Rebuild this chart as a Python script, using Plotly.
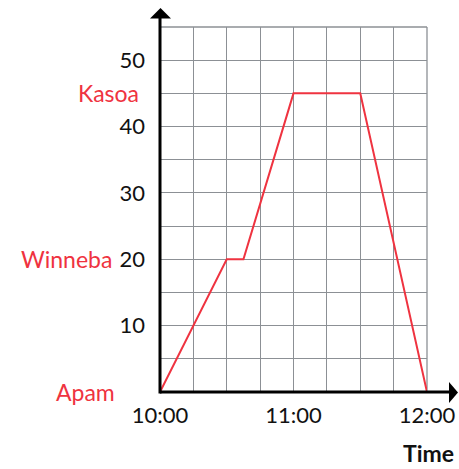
import plotly.graph_objects as go

# Journey: time of day vs distance from Apam
times = ["10:00", "10:30", "10:37:30", "11:00", "11:30", "12:00"]
distances = [0, 20, 20, 45, 45, 0]

# Named places along the route (distance value)
places = ["Apam", "Winneba", "Kasoa"]
place_dist = [0, 20, 45]
place_shift = [-43, -46, -19]

y_tick_vals = [10, 20, 30, 40, 50]
x_tick_labels = ["10:00", "11:00", "12:00"]

DAY = "2024-01-01 "
RED = "#ef3340"
GRID = "#8c9095"
FONT = "Lato, 'Open Sans', sans-serif"

W, H = 459, 469
L, R, T, B = 160, 32, 27, 77
PW, PH = W - L - R, H - T - B


def px(x):
    return (x - L) / PW


def py(y):
    return (H - B - y) / PH


fig = go.Figure()
fig.add_trace(go.Scatter(
    x=[DAY + t for t in times],
    y=distances,
    mode="lines",
    line=dict(color=RED, width=2),
    hoverinfo="skip",
    cliponaxis=False,
))

shapes = [
    # outer grid border (top and right)
    dict(type="line", xref="paper", yref="paper", x0=0, x1=1, y0=1, y1=1,
         line=dict(color=GRID, width=1.3), layer="below"),
    dict(type="line", xref="paper", yref="paper", x0=1, x1=1, y0=0, y1=1,
         line=dict(color=GRID, width=1.3), layer="below"),
    # axis lines
    dict(type="line", xref="paper", yref="paper", x0=px(160), x1=px(450),
         y0=0, y1=0, line=dict(color="black", width=3)),
    dict(type="line", xref="paper", yref="paper", x0=0, x1=0,
         y0=py(393.5), y1=py(17), line=dict(color="black", width=3)),
    # arrow heads
    dict(type="path", xref="paper", yref="paper",
         path=f"M {px(150)},{py(18.5)} L {px(171)},{py(18.5)} L {px(160.5)},{py(8)} Z",
         fillcolor="black", line=dict(width=0)),
    dict(type="path", xref="paper", yref="paper",
         path=f"M {px(449)},{py(382)} L {px(449)},{py(403)} L {px(458)},{py(392.5)} Z",
         fillcolor="black", line=dict(width=0)),
]

annotations = []
for name, d, s in zip(places, place_dist, place_shift):
    annotations.append(dict(
        x=0, xref="paper", y=d, yref="y", text=name, showarrow=False,
        xanchor="right", yanchor="middle", xshift=s,
        font=dict(family=FONT, size=23, color=RED),
    ))
annotations.append(dict(
    x=px(456), xref="paper", y=py(453), yref="paper", text="<b>Time</b>",
    showarrow=False, xanchor="right", yanchor="middle",
    font=dict(family=FONT, size=23, color="#111111"),
))

fig.update_layout(
    width=W, height=H,
    margin=dict(l=L, r=R, t=T, b=B, autoexpand=False),
    paper_bgcolor="white", plot_bgcolor="white",
    showlegend=False,
    shapes=shapes,
    annotations=annotations,
    xaxis=dict(
        type="date",
        range=[DAY + "10:00", DAY + "12:00"],
        tickvals=[DAY + t for t in x_tick_labels],
        ticktext=x_tick_labels,
        showgrid=True, gridcolor=GRID, gridwidth=1.3,
        minor=dict(dtick=15 * 60 * 1000, showgrid=True,
                   gridcolor=GRID, gridwidth=1.3),
        zeroline=False, showline=False, ticks="",
        ticklabelstandoff=8,
        automargin=False,
        tickfont=dict(family=FONT, size=22, color="#111111"),
        fixedrange=True,
    ),
    yaxis=dict(
        range=[0, 55],
        tickvals=y_tick_vals,
        showgrid=True, gridcolor=GRID, gridwidth=1.3,
        minor=dict(dtick=5, showgrid=True, gridcolor=GRID, gridwidth=1.3),
        zeroline=False, showline=False, ticks="",
        ticklabelstandoff=14,
        automargin=False,
        tickfont=dict(family=FONT, size=22, color="#111111"),
        fixedrange=True,
    ),
)

fig.write_html("out.html")
